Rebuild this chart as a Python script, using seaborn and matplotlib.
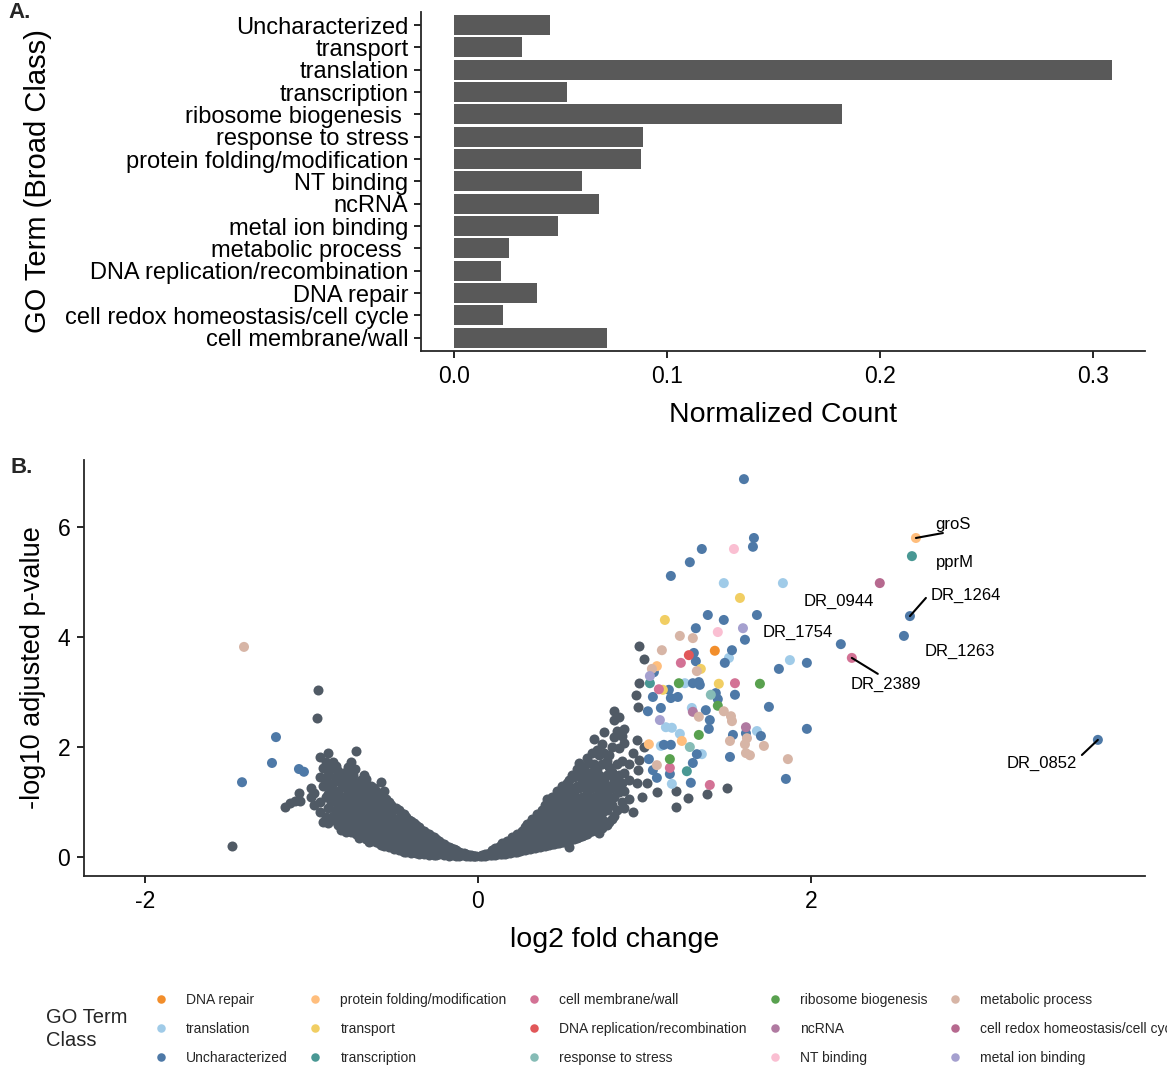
import matplotlib
matplotlib.use("Agg")
import matplotlib.pyplot as plt
import seaborn as sns
import pandas as pd

# ---------------- Panel A data ----------------
go_terms = ["Uncharacterized", "transport", "translation", "transcription",
            "ribosome biogenesis ", "response to stress", "protein folding/modification",
            "NT binding", "ncRNA", "metal ion binding", "metabolic process ",
            "DNA replication/recombination", "DNA repair",
            "cell redox homeostasis/cell cycle", "cell membrane/wall"]
norm_count = [0.045, 0.032, 0.309, 0.053, 0.182, 0.0887, 0.0878, 0.060, 0.068,
              0.049, 0.026, 0.022, 0.039, 0.023, 0.072]

# ---------------- Panel B data ----------------
# non-significant genes (grey): columns of (log2FC, [ -log10 padj ... ])
ns_columns = [
    (-1.477, [0.20]), (-0.961, [3.04]), (-0.967, [2.53]),
    (-1.16, [0.91]), (-1.13, [0.98]), (-1.10, [1.02]), (-1.075, [1.16]), (-1.07, [1.02]),
    (-1.00, [1.25, 1.09]), (-0.95, [1.82, 1.45, 1.00, 0.82]), (-0.93, [1.62, 1.30, 0.64]),
    (-0.90, [1.89, 1.50, 1.15, 0.90, 0.62]), (-0.87, [1.73, 1.35, 1.05, 0.75]),
    (-0.84, [1.56, 1.20, 0.95, 0.58]), (-0.81, [1.45, 1.28, 1.10, 0.85, 0.56]),
    (-0.78, [1.64, 1.38, 1.15, 0.95, 0.75, 0.50]), (-0.75, [1.50, 1.30, 1.10, 0.90, 0.70, 0.50]),
    (-0.73, [1.93, 1.20, 0.95, 0.60, 0.42]), (-0.70, [1.40, 1.20, 1.00, 0.80, 0.60, 0.38]),
    (-0.67, [1.42, 1.25, 1.05, 0.85, 0.65, 0.45, 0.33]), (-0.64, [1.30, 1.10, 0.90, 0.70, 0.50, 0.30]),
    (-0.61, [1.20, 1.00, 0.80, 0.60, 0.42, 0.27]), (-0.58, [1.36, 1.10, 0.90, 0.70, 0.50, 0.30, 0.22]),
    (-0.55, [1.05, 0.85, 0.65, 0.45, 0.25]), (-0.52, [0.95, 0.78, 0.60, 0.40, 0.20]),
    (-0.49, [0.90, 0.70, 0.52, 0.35, 0.16]), (-0.46, [0.80, 0.62, 0.45, 0.28, 0.13]),
    (-0.43, [0.72, 0.55, 0.38, 0.22, 0.10]), (-0.40, [0.65, 0.48, 0.32, 0.18, 0.08]),
    (-0.37, [0.58, 0.42, 0.28, 0.15, 0.07]), (-0.34, [0.50, 0.36, 0.22, 0.10]),
    (-0.31, [0.44, 0.30, 0.18, 0.07]), (-0.28, [0.38, 0.25, 0.14, 0.06]),
    (-0.25, [0.32, 0.20, 0.10, 0.04]), (-0.22, [0.26, 0.16, 0.07]),
    (-0.19, [0.20, 0.12, 0.05]), (-0.16, [0.16, 0.09, 0.03]), (-0.13, [0.12, 0.06, 0.02]),
    (-0.10, [0.08, 0.03]), (-0.07, [0.05, 0.02]), (-0.04, [0.03, 0.01]), (-0.01, [0.01]),
    (0.01, [0.01]), (0.04, [0.02, 0.05]), (0.07, [0.03, 0.08]), (0.10, [0.04, 0.10, 0.16]),
    (0.13, [0.05, 0.13, 0.20]), (0.16, [0.06, 0.15, 0.25]), (0.19, [0.08, 0.18, 0.30]),
    (0.22, [0.10, 0.22, 0.35]), (0.25, [0.11, 0.25, 0.40]), (0.28, [0.13, 0.28, 0.45, 0.55]),
    (0.31, [0.15, 0.30, 0.48, 0.62]), (0.34, [0.17, 0.33, 0.50, 0.68]),
    (0.37, [0.19, 0.36, 0.55, 0.75]), (0.40, [0.20, 0.38, 0.58, 0.80, 0.95]),
    (0.43, [0.22, 0.42, 0.62, 0.85, 1.00]), (0.46, [0.24, 0.45, 0.68, 0.90, 1.10]),
    (0.49, [0.26, 0.48, 0.72, 0.95, 1.20]), (0.52, [0.28, 0.52, 0.78, 1.02, 1.30]),
    (0.55, [0.18, 0.30, 0.55, 0.82, 1.10, 1.40]), (0.58, [0.33, 0.60, 0.88, 1.15, 1.45]),
    (0.61, [0.36, 0.65, 0.95, 1.25, 1.55, 1.71]), (0.64, [0.40, 0.70, 1.00, 1.30, 1.60]),
    (0.67, [0.45, 0.75, 1.05, 1.35, 1.45, 1.71]), (0.70, [0.50, 0.80, 1.10, 1.40, 1.70, 2.15]),
    (0.73, [0.44, 0.60, 0.90, 1.20, 1.50, 1.85]), (0.76, [0.65, 0.95, 1.25, 1.40, 1.90, 2.27]),
    (0.79, [0.64, 1.00, 1.30, 1.64, 1.85]), (0.82, [0.75, 1.10, 1.40, 2.18, 2.49, 2.65]),
    (0.85, [1.18, 1.50, 1.98, 2.55]), (0.88, [0.90, 1.20, 1.53, 2.07, 2.33]),
    (0.93, [0.82, 1.89]), (0.955, [1.35, 2.13]), (0.96, [1.58, 2.73]), (0.95, [2.95]),
    (0.97, [1.76, 3.16, 3.84]), (0.985, [1.09]), (1.00, [3.60, 2.00]), (1.015, [1.35]),
    (1.075, [1.18]), (1.19, [0.91, 1.20]), (1.26, [1.07]), (1.375, [1.15]), (1.495, [1.25]),
]
# further grey genes filling the dense part of the cloud
ns_columns_dense = [
    (-0.985, [1.17, 0.95]), (-0.915, [1.72, 1.38, 1.10, 0.73]), (-0.885, [1.60, 1.25, 1.00, 0.70]),
    (-0.855, [1.65, 1.45, 1.12, 0.85, 0.65]), (-0.825, [1.50, 1.35, 1.00, 0.72, 0.50]),
    (-0.795, [1.55, 1.25, 1.05, 0.85, 0.62, 0.45]), (-0.765, [1.72, 1.40, 1.20, 1.00, 0.80, 0.60, 0.45]),
    (-0.74, [1.60, 1.35, 1.05, 0.75, 0.50]), (-0.715, [1.30, 1.10, 0.90, 0.70, 0.50, 0.35]),
    (-0.685, [1.50, 1.32, 1.15, 0.95, 0.75, 0.55, 0.38]), (-0.655, [1.20, 1.00, 0.80, 0.60, 0.40, 0.28]),
    (-0.625, [1.25, 1.05, 0.85, 0.65, 0.50, 0.35]), (-0.595, [1.15, 0.95, 0.80, 0.60, 0.40, 0.25]),
    (-0.565, [1.20, 0.95, 0.75, 0.55, 0.35, 0.20]), (-0.535, [1.00, 0.85, 0.70, 0.50, 0.30, 0.18]),
    (-0.505, [0.88, 0.70, 0.50, 0.30, 0.15]), (-0.475, [0.85, 0.70, 0.55, 0.40, 0.22, 0.12]),
    (-0.445, [0.78, 0.62, 0.48, 0.32, 0.17, 0.10]), (-0.415, [0.68, 0.52, 0.40, 0.26, 0.12]),
    (-0.385, [0.62, 0.50, 0.36, 0.22, 0.10]), (-0.355, [0.55, 0.44, 0.30, 0.17, 0.06]),
    (-0.325, [0.48, 0.40, 0.26, 0.13, 0.05]), (-0.295, [0.42, 0.34, 0.22, 0.10, 0.04]),
    (-0.265, [0.36, 0.28, 0.17, 0.08, 0.03]), (-0.235, [0.30, 0.22, 0.12, 0.05]),
    (-0.205, [0.24, 0.16, 0.09, 0.03]), (-0.175, [0.18, 0.13, 0.06, 0.02]),
    (-0.145, [0.14, 0.09, 0.04]), (-0.115, [0.10, 0.05, 0.02]), (-0.085, [0.07, 0.03]),
    (-0.055, [0.04, 0.02]), (-0.025, [0.02, 0.01]),
    (0.025, [0.02, 0.04]), (0.055, [0.03, 0.06]), (0.085, [0.04, 0.08, 0.12]),
    (0.115, [0.05, 0.10, 0.17]), (0.145, [0.06, 0.12, 0.20, 0.26]), (0.175, [0.07, 0.14, 0.22, 0.30]),
    (0.205, [0.09, 0.16, 0.26, 0.36]), (0.235, [0.10, 0.18, 0.30, 0.42]),
    (0.265, [0.12, 0.20, 0.34, 0.48]), (0.295, [0.14, 0.22, 0.38, 0.52, 0.60]),
    (0.325, [0.16, 0.24, 0.40, 0.58, 0.70]), (0.355, [0.18, 0.26, 0.44, 0.62, 0.78]),
    (0.385, [0.20, 0.28, 0.48, 0.68, 0.85]), (0.415, [0.21, 0.30, 0.50, 0.72, 0.90, 1.05]),
    (0.445, [0.23, 0.34, 0.55, 0.78, 0.95, 1.10]), (0.475, [0.25, 0.36, 0.60, 0.82, 1.05, 1.20]),
    (0.505, [0.27, 0.38, 0.62, 0.88, 1.12, 1.30]), (0.535, [0.29, 0.42, 0.68, 0.92, 1.20, 1.35]),
    (0.565, [0.32, 0.45, 0.70, 0.98, 1.25, 1.50]), (0.595, [0.35, 0.48, 0.75, 1.02, 1.30, 1.60]),
    (0.625, [0.38, 0.52, 0.80, 1.10, 1.40, 1.65]), (0.655, [0.42, 0.60, 0.88, 1.18, 1.50, 1.80]),
    (0.685, [0.48, 0.65, 0.95, 1.25, 1.55, 1.90]), (0.715, [0.55, 0.72, 1.00, 1.30, 1.60, 1.95]),
    (0.745, [0.52, 0.80, 1.10, 1.35, 1.70, 2.05]), (0.775, [0.58, 0.85, 1.15, 1.50, 1.75]),
    (0.805, [0.70, 0.95, 1.25, 1.55, 2.00]), (0.835, [0.85, 1.30, 1.70, 2.30]),
    (0.865, [1.00, 1.35, 1.75, 2.20]), (0.91, [1.05, 1.40, 1.70]),
]

# significant genes by GO class: (log2FC, -log10 padj)
pts_uncharacterized = [(1.598, 6.87), (1.658, 5.80), (1.652, 5.64), (1.345, 5.60), (1.273, 5.36),
    (1.159, 5.11), (1.381, 4.40), (1.477, 4.31), (1.676, 4.40), (1.309, 4.16), (1.604, 3.95),
    (2.18, 3.87), (1.297, 3.71), (1.526, 3.76), (1.057, 3.36), (1.309, 3.56), (1.483, 3.53),
    (1.976, 3.53), (1.808, 3.42), (1.147, 3.04), (1.291, 3.16), (1.327, 3.18), (1.333, 3.13),
    (1.051, 2.91), (1.159, 2.89), (1.201, 2.91), (1.429, 2.98), (1.441, 2.87), (1.544, 2.95),
    (1.021, 2.65), (1.099, 2.71), (1.369, 2.67), (1.748, 2.73), (1.393, 2.49), (1.387, 2.33),
    (1.610, 2.25), (1.700, 2.20), (1.976, 2.33), (1.532, 2.22), (1.117, 2.04), (1.159, 2.04),
    (1.315, 1.87), (1.514, 1.82), (1.850, 1.42), (1.027, 1.78), (1.051, 1.58), (1.075, 1.44),
    (1.153, 1.51), (1.291, 1.71), (1.279, 1.35), (2.595, 4.38), (2.559, 4.02), (3.724, 2.13),
    (-1.213, 2.18), (-1.237, 1.71), (-1.417, 1.36), (-1.075, 1.60), (-1.045, 1.55)]
pts_translation = [(1.477, 4.98), (1.832, 4.98), (1.508, 3.62), (1.874, 3.58), (1.243, 3.16),
    (1.285, 2.71), (1.129, 2.36), (1.165, 2.35), (1.213, 2.24), (1.676, 2.29), (1.099, 2.02),
    (1.345, 1.87), (1.165, 1.33)]
pts_dna_repair = [(1.423, 3.75)]
pts_protein_folding = [(2.631, 5.80), (1.075, 3.47), (1.225, 2.11), (1.027, 2.05)]
pts_transport = [(1.574, 4.71), (1.123, 4.31), (1.339, 3.42), (1.111, 3.04), (1.447, 3.15)]
pts_transcription = [(2.607, 5.47), (1.033, 3.16), (1.255, 1.56)]
pts_cell_membrane = [(2.246, 3.62), (1.219, 3.53), (1.087, 3.05), (1.544, 3.16), (1.153, 1.62), (1.393, 1.31)]
pts_dna_replication = [(1.267, 3.67)]
pts_stress = [(1.399, 2.95), (1.273, 2.00)]
pts_ribosome = [(1.207, 3.16), (1.694, 3.15), (1.441, 2.75), (1.327, 2.22), (1.153, 1.78)]
pts_ncrna = [(1.291, 2.64), (1.610, 2.36)]
pts_nt_binding = [(1.538, 5.60), (1.441, 4.09)]
pts_metabolic = [(1.213, 4.02), (1.291, 3.98), (1.105, 3.76), (1.045, 3.42), (1.315, 3.38),
    (1.477, 2.65), (1.520, 2.56), (1.526, 2.47), (1.327, 2.55), (1.514, 2.11), (1.616, 2.16),
    (1.604, 2.05), (1.718, 2.02), (1.610, 1.89), (1.634, 1.85), (1.862, 1.78), (1.075, 1.67),
    (-1.405, 3.82)]
pts_cell_redox = [(2.414, 4.98)]
pts_metal_ion = [(1.592, 4.16), (1.033, 3.29), (1.093, 2.49)]

class_names = ["DNA repair", "translation", "Uncharacterized",
               "protein folding/modification", "transport", "transcription",
               "cell membrane/wall", "DNA replication/recombination", "response to stress",
               "ribosome biogenesis", "ncRNA", "NT binding",
               "metabolic process", "cell redox homeostasis/cell cycle", "metal ion binding"]
class_colors = ["#F28E2B", "#A0CBE8", "#4E79A7",
                "#FFBE7D", "#F1CE63", "#499894",
                "#D37295", "#E15759", "#86BCB6",
                "#59A14F", "#B07AA1", "#FABFD2",
                "#D7B5A6", "#B6698F", "#A5A0CF"]
class_points = [pts_dna_repair, pts_translation, pts_uncharacterized,
                pts_protein_folding, pts_transport, pts_transcription,
                pts_cell_membrane, pts_dna_replication, pts_stress,
                pts_ribosome, pts_ncrna, pts_nt_binding,
                pts_metabolic, pts_cell_redox, pts_metal_ion]

# gene labels: name, point (x, y), text centre (x, y), leader-line end or None
label_names = ["groS", "pprM", "DR_0944", "DR_1264", "DR_1754", "DR_1263", "DR_2389", "DR_0852"]
label_points = [(2.631, 5.80), (2.607, 5.47), (2.414, 4.98), (2.595, 4.38),
                (2.18, 3.87), (2.559, 4.02), (2.246, 3.62), (3.724, 2.13)]
label_text_pos = [(2.853, 6.04), (2.865, 5.35), (2.168, 4.65), (2.931, 4.76),
                  (1.922, 4.09), (2.892, 3.745), (2.450, 3.145), (3.387, 1.71)]
label_line_end = [(2.793, 5.89), None, None, (2.691, 4.71), None, None, (2.402, 3.33), (3.628, 1.855)]

# ---------------- build frames ----------------
dfA = pd.DataFrame({"term": go_terms, "count": norm_count})
ns_x, ns_y = [], []
for cx, ys in ns_columns + ns_columns_dense:
    for yv in ys:
        ns_x.append(cx)
        ns_y.append(yv)
dfNS = pd.DataFrame({"lfc": ns_x, "p": ns_y})
rows = []
for name, pts in zip(class_names, class_points):
    for px, py in pts:
        rows.append((px, py, name))
dfSig = pd.DataFrame(rows, columns=["lfc", "p", "cls"])
palette = dict(zip(class_names, class_colors))

# ---------------- plotting ----------------
sns.set_theme(style="ticks")
plt.rcParams["font.family"] = ["Liberation Sans", "DejaVu Sans"]
plt.rcParams["axes.linewidth"] = 1.3
plt.rcParams["axes.unicode_minus"] = False

fig = plt.figure(figsize=(11.67, 10.67), dpi=100)
axA = fig.add_axes([0.3608, 0.671, 0.6204, 0.318])
axB = fig.add_axes([0.072, 0.179, 0.909, 0.390])

# Panel A
sns.barplot(data=dfA, x="count", y="term", order=go_terms, color="#595959",
            saturation=1, width=0.9, ax=axA, edgecolor="none")
axA.set_xlim(-0.0155, 0.3244)
axA.set_ylim(14.6, -0.6)
axA.set_xticks([0.0, 0.1, 0.2, 0.3])
axA.set_xticklabels(["0.0", "0.1", "0.2", "0.3"])
axA.set_xlabel("Normalized Count", fontsize=20.5, labelpad=10, color="black")
axA.set_ylabel("GO Term (Broad Class)", fontsize=21, labelpad=9, color="black")
axA.tick_params(axis="y", labelsize=17, length=5, width=1.2, colors="black", pad=4)
axA.tick_params(axis="x", labelsize=16.5, length=5, width=1.2, colors="black", pad=5)
sns.despine(ax=axA)

# Panel B
sns.scatterplot(data=dfNS, x="lfc", y="p", color="#505A65", s=52, linewidth=0,
                ax=axB, legend=False, zorder=2)
sns.scatterplot(data=dfSig, x="lfc", y="p", hue="cls", hue_order=class_names,
                palette=palette, s=52, linewidth=0, ax=axB, zorder=3)
for name, pt, tp, le in zip(label_names, label_points, label_text_pos, label_line_end):
    if le is not None:
        axB.plot([pt[0], le[0]], [pt[1], le[1]], color="black", lw=1.5, zorder=4)
    axB.text(tp[0], tp[1], name, fontsize=12, ha="center", va="center", color="black", zorder=5)
axB.set_xlim(-2.366, 4.006)
axB.set_ylim(-0.345, 7.22)
axB.set_xticks([-2, 0, 2])
axB.set_yticks([0, 2, 4, 6])
axB.set_xlabel("log2 fold change", fontsize=20.5, labelpad=10, color="black")
axB.set_ylabel("-log10 adjusted p-value", fontsize=19.5, labelpad=8, color="black")
axB.tick_params(axis="both", labelsize=16.5, length=5, width=1.2, colors="black", pad=5)
sns.despine(ax=axB)

handles, labels = axB.get_legend_handles_labels()
axB.get_legend().remove()
lookup = dict(zip(labels, handles))
fig.legend([lookup[n] for n in class_names], class_names, ncol=5, loc="upper left",
           bbox_to_anchor=(147 / 1167, 1 - 993 / 1067), frameon=False, fontsize=10,
           borderaxespad=0, borderpad=0, columnspacing=1.0, labelspacing=1.08,
           handlelength=2.0, handletextpad=0.8, markerscale=0.85)
fig.text(46 / 1167, 1 - 1029 / 1067, "GO Term\nClass", fontsize=14.5, ha="left", va="center",
         linespacing=1.25)

fig.text(8 / 1167, 1 - 13 / 1067, "A.", fontsize=16, fontweight="bold", ha="left", va="center")
fig.text(10 / 1167, 1 - 467 / 1067, "B.", fontsize=16, fontweight="bold", ha="left", va="center")

fig.savefig("out.png", dpi=100)
